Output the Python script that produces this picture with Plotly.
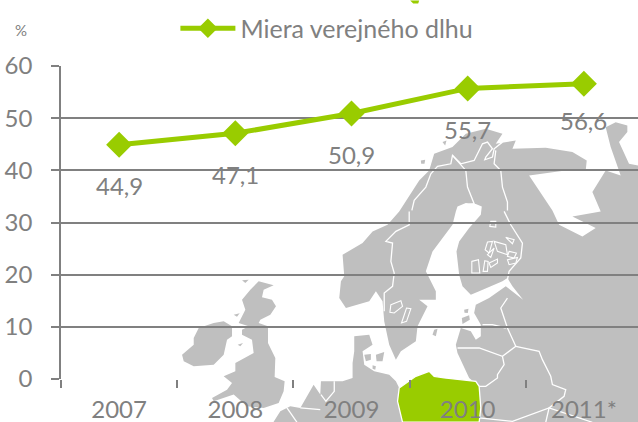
import plotly.graph_objects as go

years = ["2007", "2008", "2009", "2010", "2011*"]
debt = [44.9, 47.1, 50.9, 55.7, 56.6]
label_shift = [-41, -41, -41, -41, -37]
series_name = "Miera verejného dlhu"
y_ticks = [0, 10, 20, 30, 40, 50, 60]

GREEN = "#99CC00"
GRAY = "#808080"
MAP = "#BFBFBF"
FONT = "Lato"
W, H = 638, 422
ML, MR, MT, MB = 60.5, 0, 65.5, 43.3
PW, PH = W - ML - MR, H - MT - MB


def z(points, ox, oy):
    return [(ox + a / 3, oy + b / 3) for a, b in points]


def z2(p):
    return z(p, 319, 0)


def z3(p):
    return z(p, 0, 211)


def z4(p):
    return z(p, 319, 211)


def path(points, close=True):
    d = ""
    for i, (x, y) in enumerate(points):
        d += ("M" if i == 0 else "L") + f"{(x - ML) / PW:.5f},{1 - (y - MT) / PH:.5f} "
    return d + ("Z" if close else "")


main_land = (
    z4([(60, 260), (65, 210), (75, 195), (70, 130), (130, 95), (160, 60), (205, 40), (240, 0)])
    + z2([(300, 540), (330, 510), (345, 460), (400, 440), (440, 400), (500, 385), (550, 400), (530, 430),
          (590, 420), (580, 445), (680, 442), (760, 455), (803, 480), (800, 510), (755, 508), (630, 525), (700, 630)])
    + z4([(720, 40), (790, 75), (830, 50), (760, 15), (845, 0)])
    + z2([(820, 575), (860, 510), (905, 525), (875, 440), (860, 380), (890, 365), (925, 375), (925, 395),
          (900, 425), (930, 490), (957, 495)])
    + [(638, 422), (273, 422)]
    + z3([(840, 600), (870, 585), (900, 590), (940, 520), (960, 550)])
    + z4([(5, 510), (70, 510), (100, 500), (100, 455), (105, 420), (105, 375), (150, 370), (160, 400), (130, 420),
          (135, 460), (165, 480), (210, 490), (230, 510), (240, 530), (290, 495), (330, 480), (345, 495),
          (375, 500), (470, 510), (480, 525), (450, 500), (415, 425), (410, 400), (425, 350), (455, 360),
          (470, 385), (485, 375), (485, 340), (465, 305), (470, 280), (510, 260), (560, 225), (612, 265),
          (580, 225), (565, 200), (550, 210), (480, 240), (455, 250), (430, 225), (420, 190), (412, 120),
          (420, 90), (450, 50), (485, 10), (488, -15), (470, -22), (440, -25), (415, -15), (410, 0), (400, 40),
          (340, 120), (320, 180), (350, 240),
          (350, 265), (300, 265), (325, 285), (295, 345), (290, 390), (245, 420), (230, 445), (210, 400),
          (195, 330), (190, 270), (170, 240), (150, 270), (80, 290)])
)
great_britain = z3([(775, 210), (820, 222), (790, 235), (785, 258), (815, 265), (827, 285), (810, 310), (780, 325),
                    (775, 335), (803, 345), (803, 395), (825, 440), (823, 497), (853, 510), (850, 540), (835, 575),
                    (790, 590), (740, 585), (700, 550), (640, 570), (635, 560), (680, 535), (695, 515), (670, 495),
                    (705, 480), (705, 455), (760, 425), (755, 385), (725, 370), (725, 355), (745, 345), (715, 335),
                    (735, 295), (725, 265), (750, 235)])
ireland = z3([(640, 335), (670, 330), (695, 345), (695, 375), (680, 385), (670, 430), (640, 460), (580, 465),
              (550, 450), (545, 430), (580, 400), (580, 380), (595, 350)])
islands = [
    z4([(135, 430), (155, 428), (155, 445), (140, 450)]),
    z4([(170, 430), (195, 422), (190, 450), (172, 450)]),
    z4([(160, 462), (170, 465), (168, 475), (160, 472)]),
    z4([(345, 355), (355, 352), (350, 375), (340, 370)]),
    z4([(428, 320), (450, 312), (452, 325), (430, 338)]),
    z4([(435, 295), (448, 292), (446, 305), (436, 304)]),
    z2([(305, 480), (318, 478), (316, 490), (306, 490)]),
    z2([(370, 425), (382, 420), (378, 435)]),
    z3([(725, 207), (745, 205), (735, 215)]),
    z3([(700, 310), (718, 306), (710, 316)]),
    z3([(712, 400), (728, 395), (720, 405)]),
]
poland = z4([(240, 530), (290, 495), (330, 480), (345, 495), (375, 500), (470, 510), (480, 525), (485, 590), (480, 633),
             (250, 633), (235, 570)])
title_fragment = [(410, 0), (419, 0), (418, 3), (413, 3)]
borders = [
    z2([(278, 630), (285, 600), (320, 560), (335, 520), (355, 498), (395, 490), (400, 465), (425, 490), (465, 480),
        (490, 430), (505, 425), (520, 445), (500, 470), (497, 478), (520, 470), (525, 445), (550, 425)]),
    z4([(270, 0), (270, 40), (230, 60), (200, 90), (220, 95), (215, 150), (225, 185), (220, 225), (195, 245), (195, 300)]),
    z2([(400, 465), (440, 510), (445, 560), (465, 610), (450, 612)]),
    z2([(530, 450), (525, 490), (545, 510), (550, 560), (565, 605), (565, 630)]),
    z4([(555, 0), (575, 40), (610, 95), (605, 140), (570, 180), (565, 205)]),
    z4([(415, 410), (480, 410), (550, 435), (590, 405), (565, 350), (545, 290), (565, 260)]),
    z4([(550, 435), (555, 460), (535, 490), (535, 500), (500, 525), (480, 525)]),
    z4([(590, 405), (660, 420), (670, 445), (695, 495), (700, 520), (740, 535), (735, 555), (690, 590), (680, 633)]),
    z4([(490, 340), (520, 340), (560, 350)]),
    z4([(480, 620), (580, 630), (690, 590), (820, 633)]),
    z4([(45, 510), (45, 540), (20, 570), (5, 550)]),
    z3([(860, 590), (890, 633)]),
    z3([(900, 590), (960, 595)]),
]
lakes = [
    z4([(215, 280), (245, 268), (250, 285), (225, 305), (212, 303)]),
    z4([(262, 290), (275, 292), (262, 330), (247, 335)]),
    z4([(515, 30), (530, 30), (530, 47), (512, 45)]),
    z4([(505, 92), (520, 90), (510, 125), (498, 115)]),
    z4([(525, 90), (560, 100), (565, 130), (535, 120)]),
    z4([(560, 78), (585, 85), (580, 97)]),
    z4([(515, 120), (525, 110), (515, 138), (505, 130)]),
    z4([(570, 120), (592, 125), (585, 140), (565, 135)]),
    z4([(510, 155), (535, 143), (535, 155), (515, 168)]),
    z4([(458, 150), (478, 145), (482, 185), (458, 185)]),
    z4([(497, 148), (507, 150), (505, 180), (492, 180)]),
    z4([(565, 145), (595, 138), (590, 155), (570, 160)]),
]

shapes = []
for poly in [main_land, great_britain, ireland] + islands:
    shapes.append(dict(type="path", xref="paper", yref="paper", layer="below", path=path(poly),
                       fillcolor=MAP, line=dict(width=0)))
for line in borders:
    shapes.append(dict(type="path", xref="paper", yref="paper", layer="below", path=path(line, False),
                       line=dict(color="white", width=1.3)))
for lake in lakes:
    shapes.append(dict(type="path", xref="paper", yref="paper", layer="below", path=path(lake),
                       fillcolor=MAP, line=dict(color="white", width=1.1)))
shapes.append(dict(type="path", xref="paper", yref="paper", layer="below", path=path(poland),
                   fillcolor=GREEN, line=dict(color="white", width=1.3)))
shapes.append(dict(type="path", xref="paper", yref="paper", layer="below", path=path(title_fragment),
                   fillcolor=GREEN, line=dict(width=0)))

x_pos = list(range(len(years)))
fig = go.Figure(go.Scatter(
    x=x_pos, y=debt, mode="lines+markers", name=series_name,
    line=dict(color=GREEN, width=5),
    marker=dict(symbol="diamond", size=20, color=GREEN),
    cliponaxis=False,
    showlegend=False,
))
# legend key: smaller diamond than on the line itself
fig.add_trace(go.Scatter(
    x=[None], y=[None], mode="lines+markers", name=series_name,
    line=dict(color=GREEN, width=5),
    marker=dict(symbol="diamond", size=15, color=GREEN),
))

annotations = [
    dict(x=i, y=v, xref="x", yref="y", text=f"{v:.1f}".replace(".", ","), showarrow=False, yshift=s,
         font=dict(family=FONT, size=24, color=GRAY))
    for i, (v, s) in enumerate(zip(debt, label_shift))
]
annotations.append(dict(x=(20 - ML) / PW, y=1 + (MT - 29) / PH, xref="paper", yref="paper", text="%", showarrow=False,
                        xanchor="center", yanchor="middle",
                        font=dict(family=FONT, size=15, color=GRAY)))

fig.update_layout(
    width=W, height=H,
    margin=dict(l=ML, r=MR, t=MT, b=MB, pad=0, autoexpand=False),
    paper_bgcolor="white", plot_bgcolor="rgba(0,0,0,0)",
    font=dict(family=FONT, color=GRAY),
    showlegend=True,
    legend=dict(x=(175 - ML) / PW, y=1 + (MT - 5) / PH, xanchor="left", yanchor="top", orientation="h",
                bgcolor="rgba(0,0,0,0)", itemwidth=55, font=dict(family=FONT, size=25, color=GRAY)),
    shapes=shapes, annotations=annotations,
    xaxis=dict(range=[-0.5, -0.5 + PW / 116.3], tickmode="array", tickvals=x_pos, ticktext=years,
               ticks="", ticklen=0, showgrid=False, zeroline=False, showline=False,
               tickfont=dict(family=FONT, size=24, color=GRAY), ticklabelstandoff=14,
               minor=dict(tick0=-0.5, dtick=1, ticks="outside", ticklen=8, tickwidth=1.5, tickcolor=GRAY, showgrid=False)),
    yaxis=dict(range=[0, 60], tickmode="array", tickvals=y_ticks, ticks="outside", ticklen=8, tickwidth=1.5,
               tickcolor=GRAY, showline=True, linecolor=GRAY, linewidth=1.5, showgrid=True, gridcolor=GRAY,
               gridwidth=1.5, zeroline=False, tickfont=dict(family=FONT, size=24, color=GRAY), ticklabelstandoff=14),
)

fig.write_html("out.html", config={"displayModeBar": False},
               post_script="document.body.style.margin='0';")
